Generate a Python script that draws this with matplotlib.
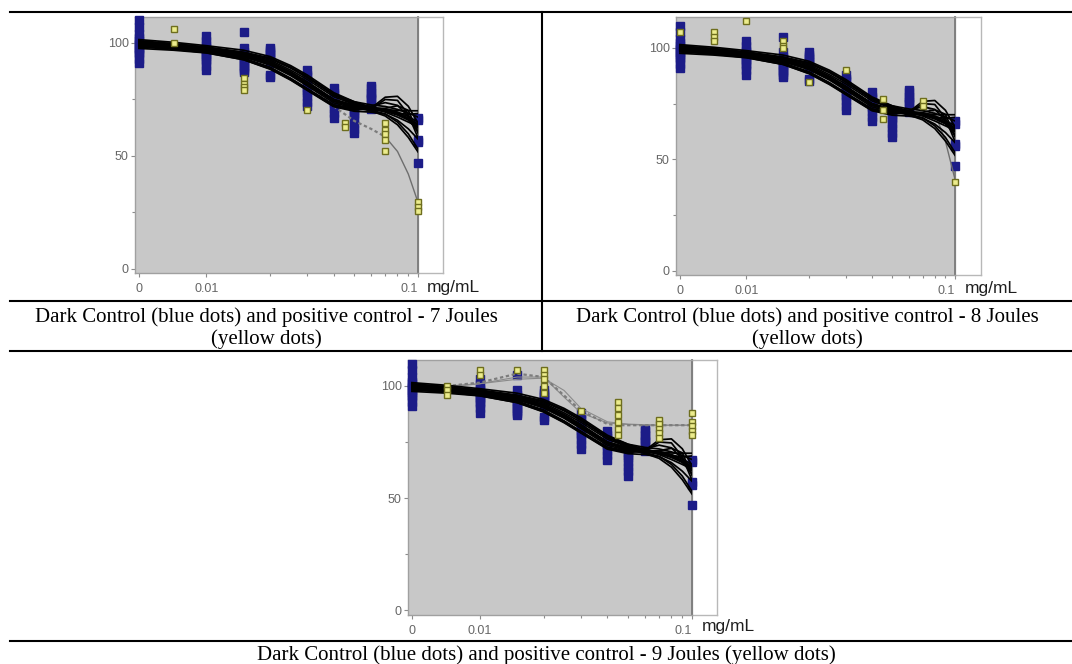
import matplotlib
matplotlib.use("Agg")
import matplotlib.pyplot as plt
from matplotlib.lines import Line2D
from matplotlib.ticker import NullFormatter

W, H = 1072, 664

plt.rcParams['font.family'] = ['Liberation Sans', 'DejaVu Sans']

# where the "0" dose sits on the log axis
ZERO = 0.0048

# ---- dark control (blue dots), same in all three panels ----
dark_doses = [ZERO, 0.01, 0.015, 0.02, 0.03, 0.04, 0.05, 0.06, 0.1]
dark_values = [
    [110, 107, 104, 102, 101, 100, 99, 98, 97, 96, 95, 93, 91],
    [103, 101, 99, 98, 97, 96, 95, 94, 93, 92, 90, 88],
    [105, 98, 96, 95, 94, 93, 92, 91, 90, 89, 88, 87],
    [98, 97, 96, 95, 94, 93, 91, 86, 85],
    [88, 86, 85, 83, 82, 80, 79, 78, 76, 74, 72],
    [80, 78, 77, 75, 74, 73, 71, 69, 67],
    [70, 69, 68, 66, 64, 62, 60],
    [81, 80, 78, 77, 76, 75, 73, 71],
    [67, 66, 57, 56, 47],
]

# fitted dose-response curves for the dark control, read at these doses
fit_doses = [ZERO, 0.007, 0.01, 0.015, 0.02, 0.025, 0.03, 0.04, 0.05, 0.06, 0.07, 0.08, 0.09, 0.1]
dark_fits = [
    [101.5, 100.3, 98.8, 96.8, 94.0, 90.0, 85.8, 78.0, 74.0, 71.6, 70.6, 70.1, 70.0, 70.0],
    [97.6, 96.8, 95.6, 92.6, 88.4, 83.6, 79.0, 71.8, 69.8, 69.4, 68.5, 65.8, 62.0, 57.5],
    [100.0, 99.0, 97.5, 94.8, 91.6, 87.1, 82.6, 75.0, 72.5, 72.0, 73.6, 72.4, 67.5, 60.5],
    [98.6, 97.6, 96.1, 93.0, 89.0, 84.2, 79.6, 72.4, 70.4, 70.8, 75.0, 74.6, 68.4, 58.0],
    [99.0, 98.0, 96.5, 93.8, 90.6, 86.1, 81.6, 74.2, 71.5, 70.3, 68.6, 65.0, 59.8, 53.0],
    [100.6, 99.6, 98.1, 95.8, 93.2, 89.2, 85.0, 77.2, 73.5, 71.2, 69.4, 67.2, 65.0, 63.0],
    [98.2, 97.2, 95.7, 92.6, 88.6, 83.8, 79.2, 72.0, 70.4, 71.2, 76.0, 76.4, 72.0, 64.5],
    [99.5, 98.5, 97.0, 94.3, 91.1, 86.6, 82.1, 74.6, 71.6, 69.9, 67.7, 63.8, 58.2, 51.8],
    [101.0, 99.7, 98.2, 95.9, 93.3, 89.3, 85.0, 77.3, 74.0, 72.6, 71.9, 70.6, 69.0, 67.2],
    [99.2, 98.2, 96.7, 94.0, 90.8, 86.3, 81.8, 74.4, 72.0, 71.4, 70.8, 69.4, 67.4, 65.0],
    [100.2, 99.2, 97.7, 95.0, 91.8, 87.3, 82.8, 75.0, 71.8, 70.5, 69.8, 68.1, 65.9, 62.3],
    [98.9, 97.9, 96.4, 93.3, 89.3, 84.4, 79.8, 72.7, 71.0, 70.8, 71.1, 72.2, 70.2, 60.2],
    [99.8, 98.8, 97.3, 94.6, 91.4, 86.9, 82.4, 74.9, 72.3, 71.2, 70.3, 68.8, 66.8, 64.0],
    [100.4, 99.3, 97.9, 95.6, 93.0, 88.9, 84.6, 76.9, 73.0, 71.1, 70.0, 69.0, 68.4, 68.8],
    [99.4, 98.4, 96.9, 94.0, 90.2, 85.6, 81.0, 73.5, 71.2, 70.9, 70.4, 69.2, 66.0, 61.0],
    [100.0, 99.0, 97.6, 95.3, 92.4, 88.0, 83.8, 76.2, 72.8, 71.3, 70.1, 68.5, 66.5, 63.5],
]

# ---- positive controls (yellow dots) ----
pos7_doses = [0.007, 0.015, 0.03, 0.045, 0.07, 0.1]
pos7_values = [[106, 100], [84.5, 82, 80.5, 79], [70.5], [64.5, 63], [64.5, 61.5, 59.5, 57, 52], [29.5, 27.5, 25.5]]
pos7_fit = [99.5, 98.5, 97.0, 94.3, 91.0, 86.5, 81.8, 72.0, 65.5, 62.0, 58.5, 52.0, 42.0, 29.5]

pos8_doses = [ZERO, 0.007, 0.01, 0.015, 0.02, 0.03, 0.045, 0.07, 0.1]
pos8_values = [[107], [107, 105, 103], [112], [103, 101, 100], [84.5], [90], [77, 72, 68], [76, 74], [40]]
pos8_fit = [99.5, 98.5, 97.0, 94.3, 91.0, 86.5, 82.0, 75.0, 72.0, 72.0, 74.5, 71.0, 58.0, 41.0]

pos9_doses = [0.007, 0.01, 0.015, 0.02, 0.03, 0.045, 0.07, 0.1]
pos9_values = [[100, 98, 96], [107, 105], [107], [107, 105, 103, 100, 97], [89],
               [93, 90, 87, 84, 81, 78], [85, 83, 81, 79, 77], [88, 84, 82, 80, 78]]
pos9_mean_doses = [0.007, 0.01, 0.015, 0.02, 0.03, 0.04, 0.045, 0.07, 0.1]
pos9_means = [100, 101.5, 105.5, 104, 89, 83, 82.5, 82.5, 82.5]
pos9_fit_a = [100, 100, 101, 104, 104, 95, 88, 83.5, 82.8, 82.6, 82.5, 82.5, 82.5, 82.5]
pos9_fit_b = [99, 99.5, 101, 103, 103.5, 98, 90, 84, 83, 82.7, 82.5, 82.5, 82.5, 82.5]

captions = [
    "Dark Control (blue dots) and positive control - 7 Joules",
    "Dark Control (blue dots) and positive control - 8 Joules",
    "(yellow dots)",
    "Dark Control (blue dots) and positive control - 9 Joules (yellow dots)",
]


def rect(l, t, r, b):
    return [l / W, 1 - b / H, (r - l) / W, (b - t) / H]


def rule(fig, x0, y0, x1, y1):
    fig.add_artist(Line2D([x0 / W, x1 / W], [1 - y0 / H, 1 - y1 / H],
                          transform=fig.transFigure, color='black', lw=1.5))


def draw_panel(fig, box, ylim, yel_doses, yel_values, gray_lines, unit_pos):
    l, t, r, b, wr = box
    # white strip right of the plot area
    axw = fig.add_axes(rect(r, t, wr, b))
    axw.set_facecolor('white')
    axw.set_xticks([])
    axw.set_yticks([])
    for s in axw.spines.values():
        s.set_color('#b8b8b8')
        s.set_linewidth(1.0)

    ax = fig.add_axes(rect(l, t, r, b))
    ax.set_facecolor('#c8c8c8')
    ax.set_xscale('log')
    ax.set_xlim(0.0046, 0.1)
    ax.set_ylim(*ylim)

    for d, vals in zip(dark_doses, dark_values):
        ax.plot([d] * len(vals), vals, 's', ms=5.4, color='#1c1c88',
                clip_on=False, zorder=3)
    for xs, ys, kw in gray_lines:
        ax.plot(xs, ys, zorder=3.5, **kw)
    for ys in dark_fits:
        ax.plot(fit_doses, ys, color='black', lw=1.25, zorder=4)
    for d, vals in zip(yel_doses, yel_values):
        ax.plot([d] * len(vals), vals, 's', ms=5.0, mfc='#ecec8c', mec='#6e6e1e',
                mew=1.0, clip_on=False, zorder=6)

    ax.set_xticks([ZERO, 0.01, 0.1])
    ax.set_xticklabels(['0', '0.01', '0.1'])
    ax.set_xticks([0.02, 0.03, 0.04, 0.05, 0.06, 0.07, 0.08, 0.09], minor=True)
    ax.xaxis.set_minor_formatter(NullFormatter())
    ax.set_yticks([0, 50, 100])
    ax.set_yticklabels(['0', '50', '100'])
    ax.set_yticks([25, 75], minor=True)
    ax.tick_params(which='both', direction='out', color='#8c8c8c', width=0.8,
                   labelcolor='#666666', labelsize=9)
    ax.tick_params(which='major', length=3, pad=1.5)
    ax.tick_params(which='minor', length=2)
    ax.tick_params(axis='x', pad=4)
    ax.get_xticklabels()[2].set_ha('right')
    for s in ax.spines.values():
        s.set_color('#a0a0a0')
        s.set_linewidth(1.0)
    ax.spines['right'].set_color('#7a7a7a')
    ax.spines['right'].set_linewidth(1.3)

    fig.text(unit_pos[0] / W, 1 - unit_pos[1] / H, 'mg/mL', fontsize=12.5,
             color='#1e1e1e', ha='left', va='baseline', zorder=10,
             bbox=dict(fc='white', ec='none', pad=1.5))


fig = plt.figure(figsize=(W / 100, H / 100), dpi=100)

# table rules
rule(fig, 10, 12, W, 12)
rule(fig, 10, 301, W, 301)
rule(fig, 10, 351, W, 351)
rule(fig, 542, 12, 542, 351)
rule(fig, 10, 641, W, 641)

gray_dash = dict(color='#7c7c7c', lw=1.6, ls=(0, (1.5, 1.2)))
gray_solid = dict(color='#6e6e6e', lw=1.0)

draw_panel(fig, (135, 17, 418, 273, 443), (-1.8, 111.5), pos7_doses, pos7_values,
           [(fit_doses[:11], pos7_fit[:11], gray_dash),
            (fit_doses[10:], pos7_fit[10:], gray_solid)],
           (427, 292))
draw_panel(fig, (676, 17, 955, 275, 981), (-2.0, 113.9), pos8_doses, pos8_values,
           [(fit_doses, pos8_fit, gray_solid)],
           (965, 293))
draw_panel(fig, (408, 360, 692, 615, 717), (-2.2, 111.6), pos9_doses, pos9_values,
           [(fit_doses, pos9_fit_a, dict(color='#8a8a8a', lw=0.8)),
            (fit_doses, pos9_fit_b, dict(color='#8a8a8a', lw=0.8)),
            (pos9_mean_doses, pos9_means, gray_dash)],
           (702, 631))

serif = dict(family=['Liberation Serif', 'DejaVu Serif'], fontsize=15, color='black',
             ha='center', va='baseline')
fig.text(266 / W, 1 - 322 / H, captions[0], **serif)
fig.text(266 / W, 1 - 344 / H, captions[2], **serif)
fig.text(807 / W, 1 - 322 / H, captions[1], **serif)
fig.text(807 / W, 1 - 344 / H, captions[2], **serif)
fig.text(546 / W, 1 - 660 / H, captions[3], **serif)

fig.savefig('out.png', dpi=100)
